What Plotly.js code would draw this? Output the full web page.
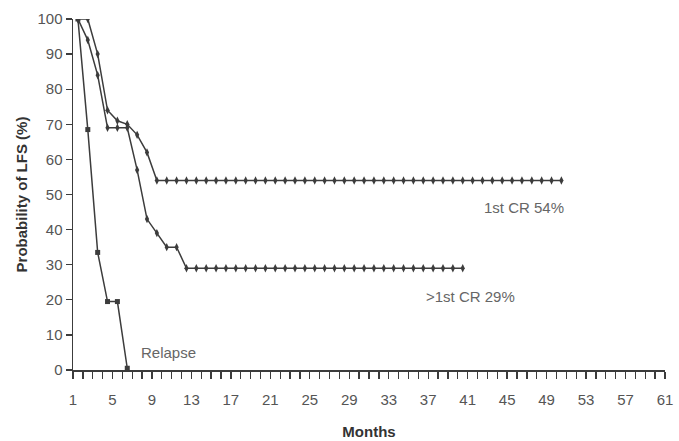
<!DOCTYPE html>
<html><head><meta charset="utf-8">
<script src="https://cdn.plot.ly/plotly-3.0.1.min.js"></script>
<style>html,body{margin:0;padding:0;background:#fff}#chart{width:679px;height:441px}</style>
</head><body><div id="chart"></div>
<script>
// Months (axis units)
const monthsCR1 = [1.5,2.5,3.5,4.5,5.5,6.5,7.5,8.5,9.5,10.5,11.5,12.5,13.5,14.5,15.5,16.5,17.5,18.5,19.5,20.5,21.5,22.5,23.5,24.5,25.5,26.5,27.5,28.5,29.5,30.5,31.5,32.5,33.5,34.5,35.5,36.5,37.5,38.5,39.5,40.5,41.5,42.5,43.5,44.5,45.5,46.5,47.5,48.5,49.5,50.5];
const lfsCR1 = [100,100,90,74,71,70,67,62,54,54,54,54,54,54,54,54,54,54,54,54,54,54,54,54,54,54,54,54,54,54,54,54,54,54,54,54,54,54,54,54,54,54,54,54,54,54,54,54,54,54];
const monthsCR2 = [1.5,2.5,3.5,4.5,5.5,6.5,7.5,8.5,9.5,10.5,11.5,12.5,13.5,14.5,15.5,16.5,17.5,18.5,19.5,20.5,21.5,22.5,23.5,24.5,25.5,26.5,27.5,28.5,29.5,30.5,31.5,32.5,33.5,34.5,35.5,36.5,37.5,38.5,39.5,40.5];
const lfsCR2 = [100,94,84,69,69,69,57,43,39,35,35,29,29,29,29,29,29,29,29,29,29,29,29,29,29,29,29,29,29,29,29,29,29,29,29,29,29,29,29,29];
const monthsRel = [1.5,2.5,3.5,4.5,5.5,6.5];
const lfsRel = [100,68.5,33.5,19.5,19.5,0.5];
const tickVals = [1,5,9,13,17,21,25,29,33,37,41,45,49,53,57,61];
const tickText = ["1","5","9","13","17","21","25","29","33","37","41","45","49","53","57","61"];
const yTickVals = [0,10,20,30,40,50,60,70,80,90,100];
const labels = ["1st CR 54%", ">1st CR 29%", "Relapse"];

const lineCol = '#3c3c3c';
const font = 'Liberation Sans, Arial, sans-serif';
const traces = [
  {x: monthsCR1, y: lfsCR1, mode:'lines+markers', line:{color:lineCol,width:1.5},
   marker:{symbol:'diamond-tall', size:6, color:lineCol}, hoverinfo:'skip'},
  {x: monthsCR2, y: lfsCR2, mode:'lines+markers', line:{color:lineCol,width:1.5},
   marker:{symbol:'diamond-tall', size:6, color:lineCol}, hoverinfo:'skip'},
  {x: monthsRel, y: lfsRel, mode:'lines+markers', line:{color:lineCol,width:1.5},
   marker:{symbol:'square', size:5, color:lineCol}, hoverinfo:'skip'}
];
const layout = {
  width:679, height:441, showlegend:false,
  paper_bgcolor:'#fff', plot_bgcolor:'#fff',
  margin:{l:73, r:14, t:19, b:71},
  font:{family:font, color:'#555', size:15},
  xaxis:{range:[1,61], showgrid:false, zeroline:false, showline:true, linecolor:lineCol, linewidth:1.5,
    ticks:'outside', ticklen:7, tickcolor:lineCol, tickwidth:1.3,
    tickmode:'array', tickvals: tickVals, ticktext: tickText, tickangle:0,
    minor:{ticks:'outside', ticklen:7, tickmode:'linear', tick0:1, dtick:1, tickcolor:lineCol, tickwidth:1.3, showgrid:false},
    tickfont:{size:15, color:'#555'}, ticklabelstandoff:8,
    title:{text:'Months', font:{size:15, color:'#333', weight:'bold'}, standoff:20}},
  yaxis:{range:[0,100], showgrid:false, zeroline:false, showline:true, linecolor:lineCol, linewidth:1.5,
    ticks:'outside', ticklen:6, tickcolor:lineCol, tickwidth:1.3,
    tickvals: yTickVals, tickfont:{size:15, color:'#555'},
    title:{text:'Probability of LFS (%)', font:{size:15, color:'#333', weight:'bold'}, standoff:6}},
  annotations:[
    {x:51, y:46.4, xref:'x', yref:'y', text:labels[0], showarrow:false, xanchor:'right', font:{size:15,color:'#666'}},
    {x:46, y:20.8, xref:'x', yref:'y', text:labels[1], showarrow:false, xanchor:'right', font:{size:15,color:'#666'}},
    {x:7.7, y:5.1, xref:'x', yref:'y', text:labels[2], showarrow:false, xanchor:'left', font:{size:15,color:'#666'}}
  ],
  shapes:[{type:'line', xref:'paper', yref:'paper', x0:-0.009, x1:0, y0:0, y1:0, line:{color:lineCol,width:1.5}}]
};
Plotly.newPlot('chart', traces, layout, {staticPlot:true, displayModeBar:false});
</script></body></html>
